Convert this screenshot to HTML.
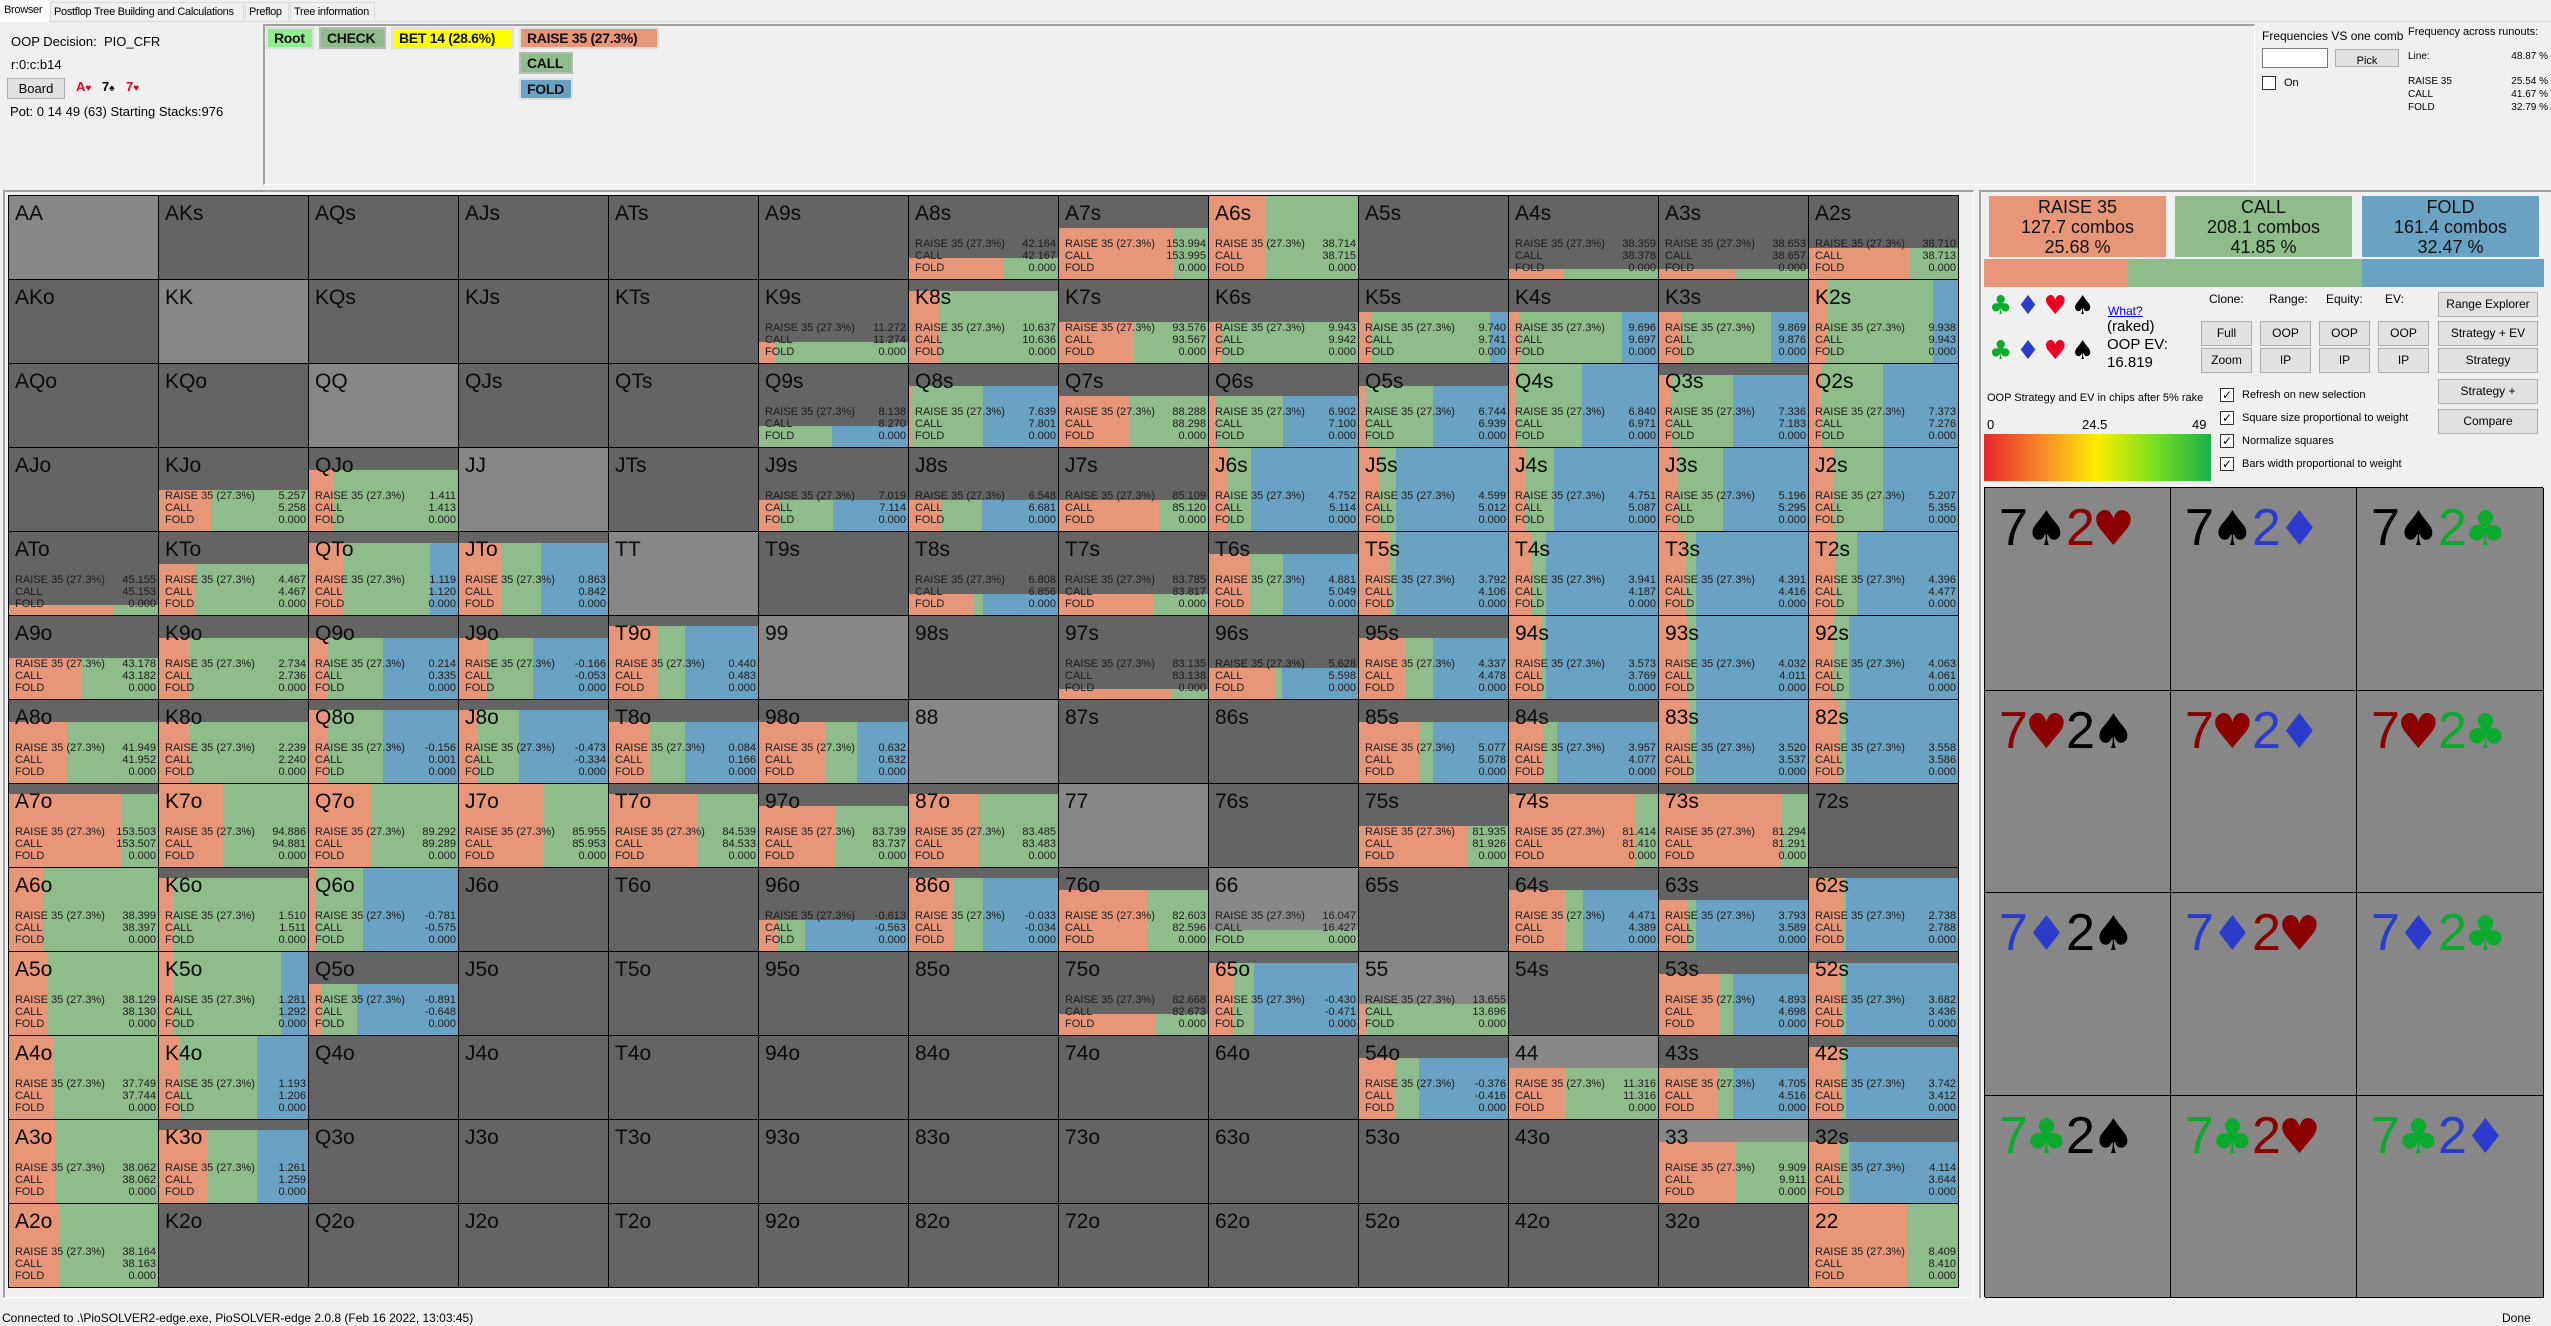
<!DOCTYPE html>
<html><head><meta charset="utf-8"><style>
*{box-sizing:border-box;margin:0;padding:0}
body{width:2551px;height:1326px;background:#f0f0f0;font-family:"Liberation Sans",Arial,sans-serif;position:relative;overflow:hidden;color:#000}
.a{position:absolute}
.tab{position:absolute;top:2px;height:19px;font-size:11px;line-height:18px;padding:0 3px;border:1px solid #d9d9d9;border-bottom:none;background:#f0f0f0;white-space:nowrap;overflow:hidden;letter-spacing:-0.3px}
.tb{position:absolute;font-size:14px;font-weight:bold;line-height:18px;padding:0 6px;border:2px solid #b8b8b8;color:#111;white-space:nowrap;overflow:hidden;letter-spacing:-0.3px}
#grid{position:absolute;left:8px;top:195px;width:1951px;height:1093px;display:grid;grid-template-columns:repeat(13,150px);grid-template-rows:repeat(13,84px);border-left:1px solid #000;border-top:1px solid #000}
.c{position:relative;background:#646464;border-right:1px solid #000;border-bottom:1px solid #000;overflow:hidden}
.c.l{background:#878787}
.b{position:absolute;left:0;right:0;bottom:0;display:flex}
.b i{display:block;height:100%}
.r{background:#e8967a}.k{background:#8fbc8b}.f{background:#6aa2c4;flex:1}
.n{position:absolute;left:6px;top:6px;font-size:21px;line-height:24px;color:#0a0a0a}
.t{position:absolute;left:6px;right:2px;top:42px;font-size:11px;line-height:12px;color:#1a1a1a}
.t div{display:flex;justify-content:space-between}
.t b{font-weight:normal}
.bx{position:absolute;top:196px;height:61px;width:177px;text-align:center;font-size:18px;line-height:20px;padding-top:1px;color:#111}
.btn{position:absolute;background:#e1e1e1;border:1px solid #adadad;font-size:12px;text-align:center;line-height:23px;height:25px;white-space:nowrap}
.cb{position:absolute;width:14px;height:14px;border:1px solid #333;background:#fff;font-size:12px;line-height:12px;text-align:center}
.lb{position:absolute;font-size:12px;line-height:14px;white-space:nowrap}
#cards{position:absolute;left:1984px;top:487px;width:559px;height:810px;display:grid;grid-template-columns:186px 186px 187px;grid-template-rows:repeat(4,202.5px);border-left:1px solid #000;border-top:1px solid #000}
#cards div{background:#878787;border-right:1px solid #000;border-bottom:1px solid #000;font-family:"Liberation Sans","DejaVu Sans",sans-serif;font-size:52px;line-height:60px;padding:10px 0 0 14px;white-space:nowrap;letter-spacing:-3px}
#cards em{font-style:normal;font-family:"DejaVu Sans",sans-serif;font-size:48px;letter-spacing:-2px}
.S{color:#000}.H{color:#8b0000}.D{color:#2b3ccc}.C{color:#0aaa2e}
</style></head><body>
<div class="a" style="left:0;top:21px;width:2551px;height:1px;background:#d9d9d9"></div>
<div class="tab" style="left:0;top:0;height:22px;width:49px;background:#fff;border-color:#fff">Browser</div>
<div class="tab" style="left:50px;width:194px">Postflop Tree Building and Calculations</div>
<div class="tab" style="left:245px;width:44px">Preflop</div>
<div class="tab" style="left:290px;width:85px">Tree information</div>

<div class="lb" style="left:11px;top:35px;font-size:13px">OOP Decision:&nbsp; PIO_CFR</div>
<div class="lb" style="left:11px;top:58px;font-size:13px">r:0:c:b14</div>
<div class="btn" style="left:7px;top:78px;width:58px;height:21px;line-height:19px;font-size:13px">Board</div>
<div class="lb" style="left:76px;top:80px;font-size:13px;font-weight:bold;color:#e8001c">A<span style="font-size:10px">♥</span></div>
<div class="lb" style="left:102px;top:80px;font-size:13px;font-weight:bold">7<span style="font-size:10px">♠</span></div>
<div class="lb" style="left:126px;top:80px;font-size:13px;font-weight:bold;color:#e8001c">7<span style="font-size:10px">♥</span></div>
<div class="lb" style="left:10px;top:105px;font-size:13px">Pot: 0 14 49 (63) Starting Stacks:976</div>

<div class="a" style="left:263px;top:24px;width:1992px;height:161px;border-top:2px solid #a0a0a0;border-left:2px solid #a0a0a0;border-right:1px solid #fff;border-bottom:1px solid #fff"></div>
<div class="tb" style="left:266px;top:27px;width:48px;height:22px;background:#90ee90;border-color:#e0e0e0">Root</div>
<div class="tb" style="left:319px;top:27px;width:67px;height:22px;background:#8fbc8b">CHECK</div>
<div class="tb" style="left:391px;top:27px;width:123px;height:22px;background:#ffff00;border-color:#e0e0e0">BET 14 (28.6%)</div>
<div class="tb" style="left:519px;top:27px;width:140px;height:22px;background:#e8967a;border-color:#e0e0e0">RAISE 35 (27.3%)</div>
<div class="tb" style="left:519px;top:52px;width:54px;height:22px;background:#8fbc8b">CALL</div>
<div class="tb" style="left:519px;top:78px;width:54px;height:22px;background:#6aa2c4;border-color:#e0e0e0">FOLD</div>

<div class="lb" style="left:2262px;top:29px">Frequencies VS one comb</div>
<div class="a" style="left:2262px;top:48px;width:66px;height:20px;background:#fff;border:1px solid #7a7a7a"></div>
<div class="btn" style="left:2335px;top:49px;width:64px;height:18px;line-height:22px;font-size:11px;overflow:hidden">Pick</div>
<div class="cb" style="left:2262px;top:76px"></div>
<div class="lb" style="left:2284px;top:76px;font-size:11px">On</div>
<div class="lb" style="left:2408px;top:25px;font-size:11px">Frequency across runouts:</div>
<div class="lb" style="left:2408px;top:50px;font-size:10px;width:140px">Line:<span style="float:right">48.87 %</span></div>
<div class="lb" style="left:2408px;top:75px;font-size:10px;width:140px;line-height:13px">RAISE 35<span style="float:right">25.54 %</span><br>CALL<span style="float:right">41.67 %</span><br>FOLD<span style="float:right">32.79 %</span></div>

<div class="a" style="left:3px;top:190px;width:1971px;height:1108px;border-top:2px solid #a0a0a0;border-left:2px solid #a0a0a0;border-right:1px solid #fff;border-bottom:1px solid #fff"></div>
<div class="a" style="left:1979px;top:190px;width:572px;height:1108px;border-top:2px solid #a0a0a0;border-left:2px solid #a0a0a0"></div>

<div id="grid">
<div class="c l"><span class="n">AA</span></div>
<div class="c"><span class="n">AKs</span></div>
<div class="c"><span class="n">AQs</span></div>
<div class="c"><span class="n">AJs</span></div>
<div class="c"><span class="n">ATs</span></div>
<div class="c"><span class="n">A9s</span></div>
<div class="c"><p class="b" style="height:25%"><i class="r" style="width:64%"></i><i class="k" style="width:36%"></i><i class="f"></i></p><span class="n">A8s</span><div class="t"><div>RAISE 35 (27.3%)<b>42.164</b></div><div>CALL<b>42.167</b></div><div>FOLD<b>0.000</b></div></div></div>
<div class="c"><p class="b" style="height:62%"><i class="r" style="width:77%"></i><i class="k" style="width:23%"></i><i class="f"></i></p><span class="n">A7s</span><div class="t"><div>RAISE 35 (27.3%)<b>153.994</b></div><div>CALL<b>153.995</b></div><div>FOLD<b>0.000</b></div></div></div>
<div class="c"><p class="b" style="height:100%"><i class="r" style="width:38%"></i><i class="k" style="width:62%"></i><i class="f"></i></p><span class="n">A6s</span><div class="t"><div>RAISE 35 (27.3%)<b>38.714</b></div><div>CALL<b>38.715</b></div><div>FOLD<b>0.000</b></div></div></div>
<div class="c"><span class="n">A5s</span></div>
<div class="c"><p class="b" style="height:12%"><i class="r" style="width:37%"></i><i class="k" style="width:63%"></i><i class="f"></i></p><span class="n">A4s</span><div class="t"><div>RAISE 35 (27.3%)<b>38.359</b></div><div>CALL<b>38.378</b></div><div>FOLD<b>0.000</b></div></div></div>
<div class="c"><p class="b" style="height:12%"><i class="r" style="width:51%"></i><i class="k" style="width:49%"></i><i class="f"></i></p><span class="n">A3s</span><div class="t"><div>RAISE 35 (27.3%)<b>38.653</b></div><div>CALL<b>38.657</b></div><div>FOLD<b>0.000</b></div></div></div>
<div class="c"><p class="b" style="height:37%"><i class="r" style="width:67%"></i><i class="k" style="width:33%"></i><i class="f"></i></p><span class="n">A2s</span><div class="t"><div>RAISE 35 (27.3%)<b>38.710</b></div><div>CALL<b>38.713</b></div><div>FOLD<b>0.000</b></div></div></div>

<div class="c"><span class="n">AKo</span></div>
<div class="c l"><span class="n">KK</span></div>
<div class="c"><span class="n">KQs</span></div>
<div class="c"><span class="n">KJs</span></div>
<div class="c"><span class="n">KTs</span></div>
<div class="c"><p class="b" style="height:25%"><i class="r" style="width:11%"></i><i class="k" style="width:89%"></i><i class="f"></i></p><span class="n">K9s</span><div class="t"><div>RAISE 35 (27.3%)<b>11.272</b></div><div>CALL<b>11.274</b></div><div>FOLD<b>0.000</b></div></div></div>
<div class="c"><p class="b" style="height:87%"><i class="r" style="width:20%"></i><i class="k" style="width:80%"></i><i class="f"></i></p><span class="n">K8s</span><div class="t"><div>RAISE 35 (27.3%)<b>10.637</b></div><div>CALL<b>10.636</b></div><div>FOLD<b>0.000</b></div></div></div>
<div class="c"><p class="b" style="height:50%"><i class="r" style="width:50%"></i><i class="k" style="width:50%"></i><i class="f"></i></p><span class="n">K7s</span><div class="t"><div>RAISE 35 (27.3%)<b>93.576</b></div><div>CALL<b>93.567</b></div><div>FOLD<b>0.000</b></div></div></div>
<div class="c"><p class="b" style="height:50%"><i class="r" style="width:8%"></i><i class="k" style="width:92%"></i><i class="f"></i></p><span class="n">K6s</span><div class="t"><div>RAISE 35 (27.3%)<b>9.943</b></div><div>CALL<b>9.942</b></div><div>FOLD<b>0.000</b></div></div></div>
<div class="c"><p class="b" style="height:62%"><i class="r" style="width:9%"></i><i class="k" style="width:79%"></i><i class="f"></i></p><span class="n">K5s</span><div class="t"><div>RAISE 35 (27.3%)<b>9.740</b></div><div>CALL<b>9.741</b></div><div>FOLD<b>0.000</b></div></div></div>
<div class="c"><p class="b" style="height:62%"><i class="r" style="width:7%"></i><i class="k" style="width:69%"></i><i class="f"></i></p><span class="n">K4s</span><div class="t"><div>RAISE 35 (27.3%)<b>9.696</b></div><div>CALL<b>9.697</b></div><div>FOLD<b>0.000</b></div></div></div>
<div class="c"><p class="b" style="height:62%"><i class="r" style="width:15%"></i><i class="k" style="width:60%"></i><i class="f"></i></p><span class="n">K3s</span><div class="t"><div>RAISE 35 (27.3%)<b>9.869</b></div><div>CALL<b>9.876</b></div><div>FOLD<b>0.000</b></div></div></div>
<div class="c"><p class="b" style="height:100%"><i class="r" style="width:13%"></i><i class="k" style="width:70%"></i><i class="f"></i></p><span class="n">K2s</span><div class="t"><div>RAISE 35 (27.3%)<b>9.938</b></div><div>CALL<b>9.943</b></div><div>FOLD<b>0.000</b></div></div></div>

<div class="c"><span class="n">AQo</span></div>
<div class="c"><span class="n">KQo</span></div>
<div class="c l"><span class="n">QQ</span></div>
<div class="c"><span class="n">QJs</span></div>
<div class="c"><span class="n">QTs</span></div>
<div class="c"><p class="b" style="height:25%"><i class="r" style="width:1%"></i><i class="k" style="width:48%"></i><i class="f"></i></p><span class="n">Q9s</span><div class="t"><div>RAISE 35 (27.3%)<b>8.138</b></div><div>CALL<b>8.270</b></div><div>FOLD<b>0.000</b></div></div></div>
<div class="c"><p class="b" style="height:74%"><i class="r" style="width:2%"></i><i class="k" style="width:48%"></i><i class="f"></i></p><span class="n">Q8s</span><div class="t"><div>RAISE 35 (27.3%)<b>7.639</b></div><div>CALL<b>7.801</b></div><div>FOLD<b>0.000</b></div></div></div>
<div class="c"><p class="b" style="height:62%"><i class="r" style="width:47%"></i><i class="k" style="width:53%"></i><i class="f"></i></p><span class="n">Q7s</span><div class="t"><div>RAISE 35 (27.3%)<b>88.288</b></div><div>CALL<b>88.298</b></div><div>FOLD<b>0.000</b></div></div></div>
<div class="c"><p class="b" style="height:62%"><i class="r" style="width:4%"></i><i class="k" style="width:46%"></i><i class="f"></i></p><span class="n">Q6s</span><div class="t"><div>RAISE 35 (27.3%)<b>6.902</b></div><div>CALL<b>7.100</b></div><div>FOLD<b>0.000</b></div></div></div>
<div class="c"><p class="b" style="height:74%"><i class="r" style="width:5%"></i><i class="k" style="width:45%"></i><i class="f"></i></p><span class="n">Q5s</span><div class="t"><div>RAISE 35 (27.3%)<b>6.744</b></div><div>CALL<b>6.939</b></div><div>FOLD<b>0.000</b></div></div></div>
<div class="c"><p class="b" style="height:100%"><i class="r" style="width:5%"></i><i class="k" style="width:44%"></i><i class="f"></i></p><span class="n">Q4s</span><div class="t"><div>RAISE 35 (27.3%)<b>6.840</b></div><div>CALL<b>6.971</b></div><div>FOLD<b>0.000</b></div></div></div>
<div class="c"><p class="b" style="height:87%"><i class="r" style="width:8%"></i><i class="k" style="width:42%"></i><i class="f"></i></p><span class="n">Q3s</span><div class="t"><div>RAISE 35 (27.3%)<b>7.336</b></div><div>CALL<b>7.183</b></div><div>FOLD<b>0.000</b></div></div></div>
<div class="c"><p class="b" style="height:100%"><i class="r" style="width:9%"></i><i class="k" style="width:41%"></i><i class="f"></i></p><span class="n">Q2s</span><div class="t"><div>RAISE 35 (27.3%)<b>7.373</b></div><div>CALL<b>7.276</b></div><div>FOLD<b>0.000</b></div></div></div>

<div class="c"><span class="n">AJo</span></div>
<div class="c"><p class="b" style="height:50%"><i class="r" style="width:35%"></i><i class="k" style="width:65%"></i><i class="f"></i></p><span class="n">KJo</span><div class="t"><div>RAISE 35 (27.3%)<b>5.257</b></div><div>CALL<b>5.258</b></div><div>FOLD<b>0.000</b></div></div></div>
<div class="c"><p class="b" style="height:74%"><i class="r" style="width:16%"></i><i class="k" style="width:84%"></i><i class="f"></i></p><span class="n">QJo</span><div class="t"><div>RAISE 35 (27.3%)<b>1.411</b></div><div>CALL<b>1.413</b></div><div>FOLD<b>0.000</b></div></div></div>
<div class="c l"><span class="n">JJ</span></div>
<div class="c"><span class="n">JTs</span></div>
<div class="c"><p class="b" style="height:37%"><i class="r" style="width:14%"></i><i class="k" style="width:36%"></i><i class="f"></i></p><span class="n">J9s</span><div class="t"><div>RAISE 35 (27.3%)<b>7.019</b></div><div>CALL<b>7.114</b></div><div>FOLD<b>0.000</b></div></div></div>
<div class="c"><p class="b" style="height:37%"><i class="r" style="width:22%"></i><i class="k" style="width:27%"></i><i class="f"></i></p><span class="n">J8s</span><div class="t"><div>RAISE 35 (27.3%)<b>6.548</b></div><div>CALL<b>6.681</b></div><div>FOLD<b>0.000</b></div></div></div>
<div class="c"><p class="b" style="height:37%"><i class="r" style="width:67%"></i><i class="k" style="width:33%"></i><i class="f"></i></p><span class="n">J7s</span><div class="t"><div>RAISE 35 (27.3%)<b>85.109</b></div><div>CALL<b>85.120</b></div><div>FOLD<b>0.000</b></div></div></div>
<div class="c"><p class="b" style="height:100%"><i class="r" style="width:13%"></i><i class="k" style="width:15%"></i><i class="f"></i></p><span class="n">J6s</span><div class="t"><div>RAISE 35 (27.3%)<b>4.752</b></div><div>CALL<b>5.114</b></div><div>FOLD<b>0.000</b></div></div></div>
<div class="c"><p class="b" style="height:100%"><i class="r" style="width:14%"></i><i class="k" style="width:11%"></i><i class="f"></i></p><span class="n">J5s</span><div class="t"><div>RAISE 35 (27.3%)<b>4.599</b></div><div>CALL<b>5.012</b></div><div>FOLD<b>0.000</b></div></div></div>
<div class="c"><p class="b" style="height:100%"><i class="r" style="width:11%"></i><i class="k" style="width:19%"></i><i class="f"></i></p><span class="n">J4s</span><div class="t"><div>RAISE 35 (27.3%)<b>4.751</b></div><div>CALL<b>5.087</b></div><div>FOLD<b>0.000</b></div></div></div>
<div class="c"><p class="b" style="height:100%"><i class="r" style="width:12%"></i><i class="k" style="width:31%"></i><i class="f"></i></p><span class="n">J3s</span><div class="t"><div>RAISE 35 (27.3%)<b>5.196</b></div><div>CALL<b>5.295</b></div><div>FOLD<b>0.000</b></div></div></div>
<div class="c"><p class="b" style="height:100%"><i class="r" style="width:16%"></i><i class="k" style="width:34%"></i><i class="f"></i></p><span class="n">J2s</span><div class="t"><div>RAISE 35 (27.3%)<b>5.207</b></div><div>CALL<b>5.355</b></div><div>FOLD<b>0.000</b></div></div></div>

<div class="c"><p class="b" style="height:12%"><i class="r" style="width:70%"></i><i class="k" style="width:30%"></i><i class="f"></i></p><span class="n">ATo</span><div class="t"><div>RAISE 35 (27.3%)<b>45.155</b></div><div>CALL<b>45.153</b></div><div>FOLD<b>0.000</b></div></div></div>
<div class="c"><p class="b" style="height:62%"><i class="r" style="width:24%"></i><i class="k" style="width:76%"></i><i class="f"></i></p><span class="n">KTo</span><div class="t"><div>RAISE 35 (27.3%)<b>4.467</b></div><div>CALL<b>4.467</b></div><div>FOLD<b>0.000</b></div></div></div>
<div class="c"><p class="b" style="height:87%"><i class="r" style="width:23%"></i><i class="k" style="width:58%"></i><i class="f"></i></p><span class="n">QTo</span><div class="t"><div>RAISE 35 (27.3%)<b>1.119</b></div><div>CALL<b>1.120</b></div><div>FOLD<b>0.000</b></div></div></div>
<div class="c"><p class="b" style="height:87%"><i class="r" style="width:28%"></i><i class="k" style="width:27%"></i><i class="f"></i></p><span class="n">JTo</span><div class="t"><div>RAISE 35 (27.3%)<b>0.863</b></div><div>CALL<b>0.842</b></div><div>FOLD<b>0.000</b></div></div></div>
<div class="c l"><span class="n">TT</span></div>
<div class="c"><span class="n">T9s</span></div>
<div class="c"><p class="b" style="height:25%"><i class="r" style="width:43%"></i><i class="k" style="width:7%"></i><i class="f"></i></p><span class="n">T8s</span><div class="t"><div>RAISE 35 (27.3%)<b>6.808</b></div><div>CALL<b>6.856</b></div><div>FOLD<b>0.000</b></div></div></div>
<div class="c"><p class="b" style="height:25%"><i class="r" style="width:64%"></i><i class="k" style="width:36%"></i><i class="f"></i></p><span class="n">T7s</span><div class="t"><div>RAISE 35 (27.3%)<b>83.785</b></div><div>CALL<b>83.817</b></div><div>FOLD<b>0.000</b></div></div></div>
<div class="c"><p class="b" style="height:74%"><i class="r" style="width:27%"></i><i class="k" style="width:23%"></i><i class="f"></i></p><span class="n">T6s</span><div class="t"><div>RAISE 35 (27.3%)<b>4.881</b></div><div>CALL<b>5.049</b></div><div>FOLD<b>0.000</b></div></div></div>
<div class="c"><p class="b" style="height:100%"><i class="r" style="width:20%"></i><i class="k" style="width:5%"></i><i class="f"></i></p><span class="n">T5s</span><div class="t"><div>RAISE 35 (27.3%)<b>3.792</b></div><div>CALL<b>4.106</b></div><div>FOLD<b>0.000</b></div></div></div>
<div class="c"><p class="b" style="height:100%"><i class="r" style="width:15%"></i><i class="k" style="width:10%"></i><i class="f"></i></p><span class="n">T4s</span><div class="t"><div>RAISE 35 (27.3%)<b>3.941</b></div><div>CALL<b>4.187</b></div><div>FOLD<b>0.000</b></div></div></div>
<div class="c"><p class="b" style="height:100%"><i class="r" style="width:18%"></i><i class="k" style="width:7%"></i><i class="f"></i></p><span class="n">T3s</span><div class="t"><div>RAISE 35 (27.3%)<b>4.391</b></div><div>CALL<b>4.416</b></div><div>FOLD<b>0.000</b></div></div></div>
<div class="c"><p class="b" style="height:100%"><i class="r" style="width:18%"></i><i class="k" style="width:14%"></i><i class="f"></i></p><span class="n">T2s</span><div class="t"><div>RAISE 35 (27.3%)<b>4.396</b></div><div>CALL<b>4.477</b></div><div>FOLD<b>0.000</b></div></div></div>

<div class="c"><p class="b" style="height:50%"><i class="r" style="width:48%"></i><i class="k" style="width:52%"></i><i class="f"></i></p><span class="n">A9o</span><div class="t"><div>RAISE 35 (27.3%)<b>43.178</b></div><div>CALL<b>43.182</b></div><div>FOLD<b>0.000</b></div></div></div>
<div class="c"><p class="b" style="height:74%"><i class="r" style="width:21%"></i><i class="k" style="width:79%"></i><i class="f"></i></p><span class="n">K9o</span><div class="t"><div>RAISE 35 (27.3%)<b>2.734</b></div><div>CALL<b>2.736</b></div><div>FOLD<b>0.000</b></div></div></div>
<div class="c"><p class="b" style="height:74%"><i class="r" style="width:13%"></i><i class="k" style="width:37%"></i><i class="f"></i></p><span class="n">Q9o</span><div class="t"><div>RAISE 35 (27.3%)<b>0.214</b></div><div>CALL<b>0.335</b></div><div>FOLD<b>0.000</b></div></div></div>
<div class="c"><p class="b" style="height:74%"><i class="r" style="width:19%"></i><i class="k" style="width:31%"></i><i class="f"></i></p><span class="n">J9o</span><div class="t"><div>RAISE 35 (27.3%)<b>-0.166</b></div><div>CALL<b>-0.053</b></div><div>FOLD<b>0.000</b></div></div></div>
<div class="c"><p class="b" style="height:88%"><i class="r" style="width:33%"></i><i class="k" style="width:18%"></i><i class="f"></i></p><span class="n">T9o</span><div class="t"><div>RAISE 35 (27.3%)<b>0.440</b></div><div>CALL<b>0.483</b></div><div>FOLD<b>0.000</b></div></div></div>
<div class="c l"><span class="n">99</span></div>
<div class="c"><span class="n">98s</span></div>
<div class="c"><p class="b" style="height:12%"><i class="r" style="width:76%"></i><i class="k" style="width:24%"></i><i class="f"></i></p><span class="n">97s</span><div class="t"><div>RAISE 35 (27.3%)<b>83.135</b></div><div>CALL<b>83.138</b></div><div>FOLD<b>0.000</b></div></div></div>
<div class="c"><p class="b" style="height:37%"><i class="r" style="width:45%"></i><i class="k" style="width:4%"></i><i class="f"></i></p><span class="n">96s</span><div class="t"><div>RAISE 35 (27.3%)<b>5.628</b></div><div>CALL<b>5.598</b></div><div>FOLD<b>0.000</b></div></div></div>
<div class="c"><p class="b" style="height:74%"><i class="r" style="width:31%"></i><i class="k" style="width:19%"></i><i class="f"></i></p><span class="n">95s</span><div class="t"><div>RAISE 35 (27.3%)<b>4.337</b></div><div>CALL<b>4.478</b></div><div>FOLD<b>0.000</b></div></div></div>
<div class="c"><p class="b" style="height:100%"><i class="r" style="width:22%"></i><i class="k" style="width:3%"></i><i class="f"></i></p><span class="n">94s</span><div class="t"><div>RAISE 35 (27.3%)<b>3.573</b></div><div>CALL<b>3.769</b></div><div>FOLD<b>0.000</b></div></div></div>
<div class="c"><p class="b" style="height:100%"><i class="r" style="width:19%"></i><i class="k" style="width:6%"></i><i class="f"></i></p><span class="n">93s</span><div class="t"><div>RAISE 35 (27.3%)<b>4.032</b></div><div>CALL<b>4.011</b></div><div>FOLD<b>0.000</b></div></div></div>
<div class="c"><p class="b" style="height:100%"><i class="r" style="width:17%"></i><i class="k" style="width:10%"></i><i class="f"></i></p><span class="n">92s</span><div class="t"><div>RAISE 35 (27.3%)<b>4.063</b></div><div>CALL<b>4.061</b></div><div>FOLD<b>0.000</b></div></div></div>

<div class="c"><p class="b" style="height:74%"><i class="r" style="width:39%"></i><i class="k" style="width:61%"></i><i class="f"></i></p><span class="n">A8o</span><div class="t"><div>RAISE 35 (27.3%)<b>41.949</b></div><div>CALL<b>41.952</b></div><div>FOLD<b>0.000</b></div></div></div>
<div class="c"><p class="b" style="height:74%"><i class="r" style="width:21%"></i><i class="k" style="width:79%"></i><i class="f"></i></p><span class="n">K8o</span><div class="t"><div>RAISE 35 (27.3%)<b>2.239</b></div><div>CALL<b>2.240</b></div><div>FOLD<b>0.000</b></div></div></div>
<div class="c"><p class="b" style="height:88%"><i class="r" style="width:13%"></i><i class="k" style="width:37%"></i><i class="f"></i></p><span class="n">Q8o</span><div class="t"><div>RAISE 35 (27.3%)<b>-0.156</b></div><div>CALL<b>0.001</b></div><div>FOLD<b>0.000</b></div></div></div>
<div class="c"><p class="b" style="height:88%"><i class="r" style="width:12%"></i><i class="k" style="width:28%"></i><i class="f"></i></p><span class="n">J8o</span><div class="t"><div>RAISE 35 (27.3%)<b>-0.473</b></div><div>CALL<b>-0.334</b></div><div>FOLD<b>0.000</b></div></div></div>
<div class="c"><p class="b" style="height:74%"><i class="r" style="width:27%"></i><i class="k" style="width:24%"></i><i class="f"></i></p><span class="n">T8o</span><div class="t"><div>RAISE 35 (27.3%)<b>0.084</b></div><div>CALL<b>0.166</b></div><div>FOLD<b>0.000</b></div></div></div>
<div class="c"><p class="b" style="height:74%"><i class="r" style="width:44%"></i><i class="k" style="width:22%"></i><i class="f"></i></p><span class="n">98o</span><div class="t"><div>RAISE 35 (27.3%)<b>0.632</b></div><div>CALL<b>0.632</b></div><div>FOLD<b>0.000</b></div></div></div>
<div class="c l"><span class="n">88</span></div>
<div class="c"><span class="n">87s</span></div>
<div class="c"><span class="n">86s</span></div>
<div class="c"><p class="b" style="height:74%"><i class="r" style="width:41%"></i><i class="k" style="width:9%"></i><i class="f"></i></p><span class="n">85s</span><div class="t"><div>RAISE 35 (27.3%)<b>5.077</b></div><div>CALL<b>5.078</b></div><div>FOLD<b>0.000</b></div></div></div>
<div class="c"><p class="b" style="height:74%"><i class="r" style="width:23%"></i><i class="k" style="width:9%"></i><i class="f"></i></p><span class="n">84s</span><div class="t"><div>RAISE 35 (27.3%)<b>3.957</b></div><div>CALL<b>4.077</b></div><div>FOLD<b>0.000</b></div></div></div>
<div class="c"><p class="b" style="height:100%"><i class="r" style="width:21%"></i><i class="k" style="width:4%"></i><i class="f"></i></p><span class="n">83s</span><div class="t"><div>RAISE 35 (27.3%)<b>3.520</b></div><div>CALL<b>3.537</b></div><div>FOLD<b>0.000</b></div></div></div>
<div class="c"><p class="b" style="height:100%"><i class="r" style="width:21%"></i><i class="k" style="width:4%"></i><i class="f"></i></p><span class="n">82s</span><div class="t"><div>RAISE 35 (27.3%)<b>3.558</b></div><div>CALL<b>3.586</b></div><div>FOLD<b>0.000</b></div></div></div>

<div class="c"><p class="b" style="height:88%"><i class="r" style="width:75%"></i><i class="k" style="width:25%"></i><i class="f"></i></p><span class="n">A7o</span><div class="t"><div>RAISE 35 (27.3%)<b>153.503</b></div><div>CALL<b>153.507</b></div><div>FOLD<b>0.000</b></div></div></div>
<div class="c"><p class="b" style="height:100%"><i class="r" style="width:43%"></i><i class="k" style="width:57%"></i><i class="f"></i></p><span class="n">K7o</span><div class="t"><div>RAISE 35 (27.3%)<b>94.886</b></div><div>CALL<b>94.881</b></div><div>FOLD<b>0.000</b></div></div></div>
<div class="c"><p class="b" style="height:100%"><i class="r" style="width:42%"></i><i class="k" style="width:58%"></i><i class="f"></i></p><span class="n">Q7o</span><div class="t"><div>RAISE 35 (27.3%)<b>89.292</b></div><div>CALL<b>89.289</b></div><div>FOLD<b>0.000</b></div></div></div>
<div class="c"><p class="b" style="height:100%"><i class="r" style="width:57%"></i><i class="k" style="width:43%"></i><i class="f"></i></p><span class="n">J7o</span><div class="t"><div>RAISE 35 (27.3%)<b>85.955</b></div><div>CALL<b>85.953</b></div><div>FOLD<b>0.000</b></div></div></div>
<div class="c"><p class="b" style="height:88%"><i class="r" style="width:59%"></i><i class="k" style="width:41%"></i><i class="f"></i></p><span class="n">T7o</span><div class="t"><div>RAISE 35 (27.3%)<b>84.539</b></div><div>CALL<b>84.533</b></div><div>FOLD<b>0.000</b></div></div></div>
<div class="c"><p class="b" style="height:74%"><i class="r" style="width:52%"></i><i class="k" style="width:48%"></i><i class="f"></i></p><span class="n">97o</span><div class="t"><div>RAISE 35 (27.3%)<b>83.739</b></div><div>CALL<b>83.737</b></div><div>FOLD<b>0.000</b></div></div></div>
<div class="c"><p class="b" style="height:88%"><i class="r" style="width:47%"></i><i class="k" style="width:53%"></i><i class="f"></i></p><span class="n">87o</span><div class="t"><div>RAISE 35 (27.3%)<b>83.485</b></div><div>CALL<b>83.483</b></div><div>FOLD<b>0.000</b></div></div></div>
<div class="c l"><span class="n">77</span></div>
<div class="c"><span class="n">76s</span></div>
<div class="c"><p class="b" style="height:50%"><i class="r" style="width:73%"></i><i class="k" style="width:27%"></i><i class="f"></i></p><span class="n">75s</span><div class="t"><div>RAISE 35 (27.3%)<b>81.935</b></div><div>CALL<b>81.926</b></div><div>FOLD<b>0.000</b></div></div></div>
<div class="c"><p class="b" style="height:88%"><i class="r" style="width:85%"></i><i class="k" style="width:15%"></i><i class="f"></i></p><span class="n">74s</span><div class="t"><div>RAISE 35 (27.3%)<b>81.414</b></div><div>CALL<b>81.410</b></div><div>FOLD<b>0.000</b></div></div></div>
<div class="c"><p class="b" style="height:88%"><i class="r" style="width:82%"></i><i class="k" style="width:18%"></i><i class="f"></i></p><span class="n">73s</span><div class="t"><div>RAISE 35 (27.3%)<b>81.294</b></div><div>CALL<b>81.291</b></div><div>FOLD<b>0.000</b></div></div></div>
<div class="c"><span class="n">72s</span></div>

<div class="c"><p class="b" style="height:100%"><i class="r" style="width:23%"></i><i class="k" style="width:77%"></i><i class="f"></i></p><span class="n">A6o</span><div class="t"><div>RAISE 35 (27.3%)<b>38.399</b></div><div>CALL<b>38.397</b></div><div>FOLD<b>0.000</b></div></div></div>
<div class="c"><p class="b" style="height:88%"><i class="r" style="width:10%"></i><i class="k" style="width:90%"></i><i class="f"></i></p><span class="n">K6o</span><div class="t"><div>RAISE 35 (27.3%)<b>1.510</b></div><div>CALL<b>1.511</b></div><div>FOLD<b>0.000</b></div></div></div>
<div class="c"><p class="b" style="height:100%"><i class="r" style="width:5%"></i><i class="k" style="width:31%"></i><i class="f"></i></p><span class="n">Q6o</span><div class="t"><div>RAISE 35 (27.3%)<b>-0.781</b></div><div>CALL<b>-0.575</b></div><div>FOLD<b>0.000</b></div></div></div>
<div class="c"><span class="n">J6o</span></div>
<div class="c"><span class="n">T6o</span></div>
<div class="c"><p class="b" style="height:37%"><i class="r" style="width:12%"></i><i class="k" style="width:19%"></i><i class="f"></i></p><span class="n">96o</span><div class="t"><div>RAISE 35 (27.3%)<b>-0.613</b></div><div>CALL<b>-0.563</b></div><div>FOLD<b>0.000</b></div></div></div>
<div class="c"><p class="b" style="height:88%"><i class="r" style="width:30%"></i><i class="k" style="width:20%"></i><i class="f"></i></p><span class="n">86o</span><div class="t"><div>RAISE 35 (27.3%)<b>-0.033</b></div><div>CALL<b>-0.034</b></div><div>FOLD<b>0.000</b></div></div></div>
<div class="c"><p class="b" style="height:74%"><i class="r" style="width:59%"></i><i class="k" style="width:41%"></i><i class="f"></i></p><span class="n">76o</span><div class="t"><div>RAISE 35 (27.3%)<b>82.603</b></div><div>CALL<b>82.596</b></div><div>FOLD<b>0.000</b></div></div></div>
<div class="c l"><p class="b" style="height:25%"><i class="r" style="width:1%"></i><i class="k" style="width:99%"></i><i class="f"></i></p><span class="n">66</span><div class="t"><div>RAISE 35 (27.3%)<b>16.047</b></div><div>CALL<b>16.427</b></div><div>FOLD<b>0.000</b></div></div></div>
<div class="c"><span class="n">65s</span></div>
<div class="c"><p class="b" style="height:74%"><i class="r" style="width:38%"></i><i class="k" style="width:12%"></i><i class="f"></i></p><span class="n">64s</span><div class="t"><div>RAISE 35 (27.3%)<b>4.471</b></div><div>CALL<b>4.389</b></div><div>FOLD<b>0.000</b></div></div></div>
<div class="c"><p class="b" style="height:62%"><i class="r" style="width:19%"></i><i class="k" style="width:6%"></i><i class="f"></i></p><span class="n">63s</span><div class="t"><div>RAISE 35 (27.3%)<b>3.793</b></div><div>CALL<b>3.589</b></div><div>FOLD<b>0.000</b></div></div></div>
<div class="c"><p class="b" style="height:88%"><i class="r" style="width:23%"></i><i class="k" style="width:2%"></i><i class="f"></i></p><span class="n">62s</span><div class="t"><div>RAISE 35 (27.3%)<b>2.738</b></div><div>CALL<b>2.788</b></div><div>FOLD<b>0.000</b></div></div></div>

<div class="c"><p class="b" style="height:100%"><i class="r" style="width:26%"></i><i class="k" style="width:74%"></i><i class="f"></i></p><span class="n">A5o</span><div class="t"><div>RAISE 35 (27.3%)<b>38.129</b></div><div>CALL<b>38.130</b></div><div>FOLD<b>0.000</b></div></div></div>
<div class="c"><p class="b" style="height:100%"><i class="r" style="width:10%"></i><i class="k" style="width:72%"></i><i class="f"></i></p><span class="n">K5o</span><div class="t"><div>RAISE 35 (27.3%)<b>1.281</b></div><div>CALL<b>1.292</b></div><div>FOLD<b>0.000</b></div></div></div>
<div class="c"><p class="b" style="height:62%"><i class="r" style="width:8%"></i><i class="k" style="width:24%"></i><i class="f"></i></p><span class="n">Q5o</span><div class="t"><div>RAISE 35 (27.3%)<b>-0.891</b></div><div>CALL<b>-0.648</b></div><div>FOLD<b>0.000</b></div></div></div>
<div class="c"><span class="n">J5o</span></div>
<div class="c"><span class="n">T5o</span></div>
<div class="c"><span class="n">95o</span></div>
<div class="c"><span class="n">85o</span></div>
<div class="c"><p class="b" style="height:25%"><i class="r" style="width:65%"></i><i class="k" style="width:35%"></i><i class="f"></i></p><span class="n">75o</span><div class="t"><div>RAISE 35 (27.3%)<b>82.668</b></div><div>CALL<b>82.673</b></div><div>FOLD<b>0.000</b></div></div></div>
<div class="c"><p class="b" style="height:87%"><i class="r" style="width:17%"></i><i class="k" style="width:13%"></i><i class="f"></i></p><span class="n">65o</span><div class="t"><div>RAISE 35 (27.3%)<b>-0.430</b></div><div>CALL<b>-0.471</b></div><div>FOLD<b>0.000</b></div></div></div>
<div class="c l"><p class="b" style="height:37%"><i class="r" style="width:5%"></i><i class="k" style="width:95%"></i><i class="f"></i></p><span class="n">55</span><div class="t"><div>RAISE 35 (27.3%)<b>13.655</b></div><div>CALL<b>13.696</b></div><div>FOLD<b>0.000</b></div></div></div>
<div class="c"><span class="n">54s</span></div>
<div class="c"><p class="b" style="height:74%"><i class="r" style="width:41%"></i><i class="k" style="width:9%"></i><i class="f"></i></p><span class="n">53s</span><div class="t"><div>RAISE 35 (27.3%)<b>4.893</b></div><div>CALL<b>4.698</b></div><div>FOLD<b>0.000</b></div></div></div>
<div class="c"><p class="b" style="height:87%"><i class="r" style="width:22%"></i><i class="k" style="width:3%"></i><i class="f"></i></p><span class="n">52s</span><div class="t"><div>RAISE 35 (27.3%)<b>3.682</b></div><div>CALL<b>3.436</b></div><div>FOLD<b>0.000</b></div></div></div>

<div class="c"><p class="b" style="height:100%"><i class="r" style="width:30%"></i><i class="k" style="width:70%"></i><i class="f"></i></p><span class="n">A4o</span><div class="t"><div>RAISE 35 (27.3%)<b>37.749</b></div><div>CALL<b>37.744</b></div><div>FOLD<b>0.000</b></div></div></div>
<div class="c"><p class="b" style="height:100%"><i class="r" style="width:14%"></i><i class="k" style="width:52%"></i><i class="f"></i></p><span class="n">K4o</span><div class="t"><div>RAISE 35 (27.3%)<b>1.193</b></div><div>CALL<b>1.206</b></div><div>FOLD<b>0.000</b></div></div></div>
<div class="c"><span class="n">Q4o</span></div>
<div class="c"><span class="n">J4o</span></div>
<div class="c"><span class="n">T4o</span></div>
<div class="c"><span class="n">94o</span></div>
<div class="c"><span class="n">84o</span></div>
<div class="c"><span class="n">74o</span></div>
<div class="c"><span class="n">64o</span></div>
<div class="c"><p class="b" style="height:74%"><i class="r" style="width:25%"></i><i class="k" style="width:15%"></i><i class="f"></i></p><span class="n">54o</span><div class="t"><div>RAISE 35 (27.3%)<b>-0.376</b></div><div>CALL<b>-0.416</b></div><div>FOLD<b>0.000</b></div></div></div>
<div class="c l"><p class="b" style="height:62%"><i class="r" style="width:38%"></i><i class="k" style="width:62%"></i><i class="f"></i></p><span class="n">44</span><div class="t"><div>RAISE 35 (27.3%)<b>11.316</b></div><div>CALL<b>11.316</b></div><div>FOLD<b>0.000</b></div></div></div>
<div class="c"><p class="b" style="height:62%"><i class="r" style="width:39%"></i><i class="k" style="width:11%"></i><i class="f"></i></p><span class="n">43s</span><div class="t"><div>RAISE 35 (27.3%)<b>4.705</b></div><div>CALL<b>4.516</b></div><div>FOLD<b>0.000</b></div></div></div>
<div class="c"><p class="b" style="height:87%"><i class="r" style="width:22%"></i><i class="k" style="width:3%"></i><i class="f"></i></p><span class="n">42s</span><div class="t"><div>RAISE 35 (27.3%)<b>3.742</b></div><div>CALL<b>3.412</b></div><div>FOLD<b>0.000</b></div></div></div>

<div class="c"><p class="b" style="height:100%"><i class="r" style="width:31%"></i><i class="k" style="width:69%"></i><i class="f"></i></p><span class="n">A3o</span><div class="t"><div>RAISE 35 (27.3%)<b>38.062</b></div><div>CALL<b>38.062</b></div><div>FOLD<b>0.000</b></div></div></div>
<div class="c"><p class="b" style="height:88%"><i class="r" style="width:33%"></i><i class="k" style="width:33%"></i><i class="f"></i></p><span class="n">K3o</span><div class="t"><div>RAISE 35 (27.3%)<b>1.261</b></div><div>CALL<b>1.259</b></div><div>FOLD<b>0.000</b></div></div></div>
<div class="c"><span class="n">Q3o</span></div>
<div class="c"><span class="n">J3o</span></div>
<div class="c"><span class="n">T3o</span></div>
<div class="c"><span class="n">93o</span></div>
<div class="c"><span class="n">83o</span></div>
<div class="c"><span class="n">73o</span></div>
<div class="c"><span class="n">63o</span></div>
<div class="c"><span class="n">53o</span></div>
<div class="c"><span class="n">43o</span></div>
<div class="c l"><p class="b" style="height:74%"><i class="r" style="width:52%"></i><i class="k" style="width:48%"></i><i class="f"></i></p><span class="n">33</span><div class="t"><div>RAISE 35 (27.3%)<b>9.909</b></div><div>CALL<b>9.911</b></div><div>FOLD<b>0.000</b></div></div></div>
<div class="c"><p class="b" style="height:74%"><i class="r" style="width:21%"></i><i class="k" style="width:6%"></i><i class="f"></i></p><span class="n">32s</span><div class="t"><div>RAISE 35 (27.3%)<b>4.114</b></div><div>CALL<b>3.644</b></div><div>FOLD<b>0.000</b></div></div></div>

<div class="c"><p class="b" style="height:100%"><i class="r" style="width:34%"></i><i class="k" style="width:66%"></i><i class="f"></i></p><span class="n">A2o</span><div class="t"><div>RAISE 35 (27.3%)<b>38.164</b></div><div>CALL<b>38.163</b></div><div>FOLD<b>0.000</b></div></div></div>
<div class="c"><span class="n">K2o</span></div>
<div class="c"><span class="n">Q2o</span></div>
<div class="c"><span class="n">J2o</span></div>
<div class="c"><span class="n">T2o</span></div>
<div class="c"><span class="n">92o</span></div>
<div class="c"><span class="n">82o</span></div>
<div class="c"><span class="n">72o</span></div>
<div class="c"><span class="n">62o</span></div>
<div class="c"><span class="n">52o</span></div>
<div class="c"><span class="n">42o</span></div>
<div class="c"><span class="n">32o</span></div>
<div class="c l"><p class="b" style="height:100%"><i class="r" style="width:66%"></i><i class="k" style="width:34%"></i><i class="f"></i></p><span class="n">22</span><div class="t"><div>RAISE 35 (27.3%)<b>8.409</b></div><div>CALL<b>8.410</b></div><div>FOLD<b>0.000</b></div></div></div>
</div>

<!-- right panel -->
<div class="bx" style="left:1989px;background:#e8967a">RAISE 35<br>127.7 combos<br>25.68 %</div>
<div class="bx" style="left:2175px;background:#8fbc8b">CALL<br>208.1 combos<br>41.85 %</div>
<div class="bx" style="left:2362px;background:#6aa2c4">FOLD<br>161.4 combos<br>32.47 %</div>
<div class="a" style="left:1984px;top:259px;width:560px;height:28px;display:flex"><div style="width:144px;background:#e8967a"></div><div style="width:234px;background:#8fbc8b"></div><div style="flex:1;background:#6aa2c4"></div></div>

<div class="a" style="left:1989px;top:291px;font-family:'DejaVu Sans',sans-serif;font-size:26px;line-height:30px;letter-spacing:4px"><span class="C">♣</span><span class="D">♦</span><span style="color:#ee0022">♥</span><span class="S">♠</span></div>
<div class="a" style="left:1989px;top:336px;font-family:'DejaVu Sans',sans-serif;font-size:26px;line-height:30px;letter-spacing:4px"><span class="C">♣</span><span class="D">♦</span><span style="color:#ee0022">♥</span><span class="S">♠</span></div>
<div class="lb" style="left:2108px;top:304px;font-size:12px;color:#0000ee;text-decoration:underline">What?</div>
<div class="lb" style="left:2107px;top:318px;font-size:15px;line-height:18px">(raked)<br>OOP EV:<br>16.819</div>
<div class="lb" style="left:2209px;top:292px">Clone:</div>
<div class="lb" style="left:2269px;top:292px">Range:</div>
<div class="lb" style="left:2326px;top:292px">Equity:</div>
<div class="lb" style="left:2385px;top:292px">EV:</div>
<div class="btn" style="left:2201px;top:321px;width:51px">Full</div>
<div class="btn" style="left:2260px;top:321px;width:51px">OOP</div>
<div class="btn" style="left:2319px;top:321px;width:51px">OOP</div>
<div class="btn" style="left:2378px;top:321px;width:51px">OOP</div>
<div class="btn" style="left:2201px;top:348px;width:51px">Zoom</div>
<div class="btn" style="left:2260px;top:348px;width:51px">IP</div>
<div class="btn" style="left:2319px;top:348px;width:51px">IP</div>
<div class="btn" style="left:2378px;top:348px;width:51px">IP</div>
<div class="btn" style="left:2438px;top:292px;width:100px">Range Explorer</div>
<div class="btn" style="left:2438px;top:321px;width:100px">Strategy + EV</div>
<div class="btn" style="left:2438px;top:348px;width:100px">Strategy</div>
<div class="btn" style="left:2438px;top:379px;width:100px">Strategy +</div>
<div class="btn" style="left:2438px;top:409px;width:100px">Compare</div>
<div class="lb" style="left:1987px;top:391px;font-size:11px">OOP Strategy and EV in chips after 5% rake</div>
<div class="cb" style="left:2220px;top:388px">✓</div><div class="lb" style="left:2242px;top:388px;font-size:11px">Refresh on new selection</div>
<div class="cb" style="left:2220px;top:411px">✓</div><div class="lb" style="left:2242px;top:411px;font-size:11px">Square size proportional to weight</div>
<div class="cb" style="left:2220px;top:434px">✓</div><div class="lb" style="left:2242px;top:434px;font-size:11px">Normalize squares</div>
<div class="cb" style="left:2220px;top:457px">✓</div><div class="lb" style="left:2242px;top:457px;font-size:11px">Bars width proportional to weight</div>
<div class="lb" style="left:1987px;top:418px;font-size:13px">0</div>
<div class="lb" style="left:2082px;top:418px;font-size:13px">24.5</div>
<div class="lb" style="left:2192px;top:418px;font-size:13px">49</div>
<div class="a" style="left:1984px;top:434px;width:227px;height:47px;background:linear-gradient(to right,#e8262a,#f8862a 25%,#fdee00 50%,#78e020 75%,#1cae4a)"></div>

<div id="cards">
<div><span class="S">7<em>♠</em></span><span class="H">2<em>♥</em></span></div>
<div><span class="S">7<em>♠</em></span><span class="D">2<em>♦</em></span></div>
<div><span class="S">7<em>♠</em></span><span class="C">2<em>♣</em></span></div>
<div><span class="H">7<em>♥</em></span><span class="S">2<em>♠</em></span></div>
<div><span class="H">7<em>♥</em></span><span class="D">2<em>♦</em></span></div>
<div><span class="H">7<em>♥</em></span><span class="C">2<em>♣</em></span></div>
<div><span class="D">7<em>♦</em></span><span class="S">2<em>♠</em></span></div>
<div><span class="D">7<em>♦</em></span><span class="H">2<em>♥</em></span></div>
<div><span class="D">7<em>♦</em></span><span class="C">2<em>♣</em></span></div>
<div><span class="C">7<em>♣</em></span><span class="S">2<em>♠</em></span></div>
<div><span class="C">7<em>♣</em></span><span class="H">2<em>♥</em></span></div>
<div><span class="C">7<em>♣</em></span><span class="D">2<em>♦</em></span></div>
</div>

<div class="lb" style="left:2px;top:1311px;font-size:12px">Connected to .\PioSOLVER2-edge.exe, PioSOLVER-edge 2.0.8 (Feb 16 2022, 13:03:45)</div>
<div class="lb" style="left:2502px;top:1311px;font-size:12px">Done</div>
</body></html>
